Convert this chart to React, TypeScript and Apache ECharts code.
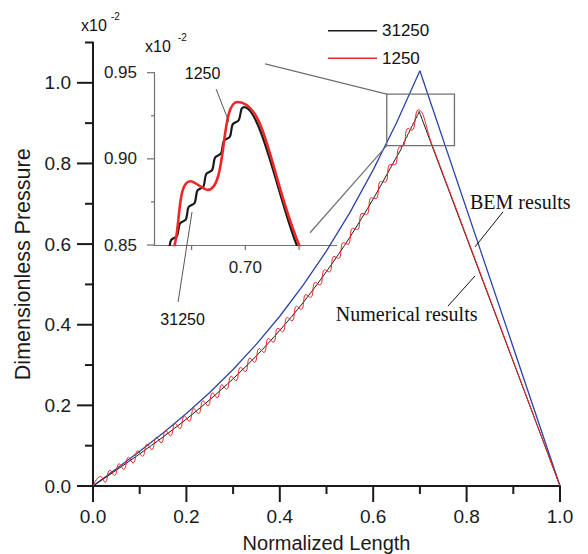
import React, { useEffect, useRef } from "react";
import * as echarts from "echarts";

// ---------- data ----------
const xMajorTicks = [0, 0.2, 0.4, 0.6, 0.8, 1.0];
const xMinorTicks = [0.1, 0.3, 0.5, 0.7, 0.9];
const yMajorTicks = [0, 0.2, 0.4, 0.6, 0.8, 1.0];
const yMinorTicks = [0.1, 0.3, 0.5, 0.7, 0.9, 1.1];
const insetXTicks = [0.675, 0.7, 0.725];
const insetXLabels = [0.7];
const insetYMajorTicks = [0.85, 0.9, 0.95];
const insetYMinorTicks = [0.875, 0.925];

const bemPoints: [number, number][] = [
  [0, 0], [0.05, 0.0426], [0.1, 0.0862], [0.15, 0.1317], [0.2, 0.18], [0.25, 0.232],
  [0.3, 0.289], [0.35, 0.352], [0.4, 0.421], [0.45, 0.498], [0.5, 0.583], [0.55, 0.678],
  [0.6, 0.784], [0.65, 0.901], [0.7, 1.03], [1.0, 0],
];

const fine31250: [number, number][] = [
  [0, 0], [0.05, 0.0394], [0.1, 0.0797], [0.15, 0.1216], [0.2, 0.166], [0.25, 0.214],
  [0.3, 0.266], [0.35, 0.323], [0.4, 0.386], [0.45, 0.455], [0.5, 0.532], [0.55, 0.617],
  [0.6, 0.712], [0.65, 0.816],
  [0.66, 0.836], [0.6613, 0.8432], [0.6641, 0.8456], [0.6654, 0.8528], [0.6682, 0.8552],
  [0.6695, 0.8624], [0.6723, 0.8648], [0.6736, 0.872], [0.6764, 0.8744], [0.6777, 0.8816],
  [0.6805, 0.884], [0.6818, 0.8912], [0.6846, 0.8936], [0.6859, 0.9008], [0.6887, 0.9032],
  [0.69, 0.9104], [0.6928, 0.9128], [0.6941, 0.92], [0.6969, 0.9224], [0.6983, 0.9292],
  [0.6995, 0.93], [0.7239, 0.85], [1.0, 0],
];

const coarse1250: [number, number][] = [
  [0, 0],
  [0.016, 0.0236], [0.026, 0.0094], [0.036, 0.0393], [0.046, 0.0262],
  [0.056, 0.0552], [0.066, 0.0412], [0.076, 0.0712], [0.086, 0.0573],
  [0.096, 0.0874], [0.106, 0.0736], [0.116, 0.1039], [0.126, 0.0902],
  [0.136, 0.1206], [0.146, 0.1072], [0.156, 0.1378], [0.166, 0.1245],
  [0.176, 0.1553], [0.186, 0.1423], [0.196, 0.1734], [0.206, 0.1606],
  [0.216, 0.1919], [0.226, 0.1794], [0.236, 0.211], [0.246, 0.1988],
  [0.256, 0.2308], [0.266, 0.2189], [0.276, 0.2512], [0.286, 0.2397],
  [0.296, 0.2724], [0.306, 0.2613], [0.316, 0.2944], [0.326, 0.2837],
  [0.336, 0.3172], [0.346, 0.3069], [0.356, 0.3409], [0.366, 0.3311],
  [0.376, 0.3656], [0.386, 0.3563], [0.396, 0.3912], [0.406, 0.3825],
  [0.416, 0.418], [0.426, 0.4097], [0.436, 0.4458], [0.446, 0.4382],
  [0.456, 0.4748], [0.466, 0.4678], [0.476, 0.505], [0.486, 0.4986],
  [0.496, 0.5365], [0.506, 0.5308], [0.516, 0.5694], [0.526, 0.5643],
  [0.536, 0.6036], [0.546, 0.5992], [0.556, 0.6392], [0.566, 0.6356],
  [0.576, 0.6763], [0.586, 0.6735], [0.596, 0.715], [0.606, 0.7129],
  [0.616, 0.7553], [0.626, 0.754], [0.636, 0.7972], [0.646, 0.7968],
  [0.656, 0.8408], [0.6635, 0.842], [0.6745, 0.887], [0.6825, 0.882],
  [0.6963, 0.933], [0.725, 0.85], [1.0, 0],
];

// ---------- annotation anchors (data coordinates) ----------
const zoomRect = { x0: 0.629, x1: 0.774, y0: 0.844, y1: 0.972 };
const insetLink1 = [0.7092, 0.9551];
const insetLink2 = [0.7301, 0.8571];
const lbl1250 = { text: [0.6801, 0.9497], from: [0.6864, 0.9405], to: [0.6924, 0.9213] };
const lbl31250 = { text: [0.6708, 0.807], from: [0.6687, 0.8169], to: [0.6752, 0.8692] };
const lblBEM = { text: [0.8073, 0.705], from: [0.878, 0.68], to: [0.818, 0.593] };
const lblNum = { text: [0.6717, 0.426], from: [0.76, 0.446], to: [0.818, 0.521] };

const SANS = '"Liberation Sans", Arial, Helvetica, sans-serif';
const SERIF = '"Liberation Serif", "Times New Roman", serif';
const AX = "#1a1a1a";
const GREY = "#707070";
const RED = "#ee2626";
const BLACK = "#1a1a1a";
const BLUE = "#2b45a8";

export default function App() {
  const ref = useRef<HTMLDivElement>(null);
  useEffect(() => {
    const el = ref.current!;
    const chart = echarts.init(el, null, { renderer: "svg" });
    const option: any = {
      animation: false,
      backgroundColor: "#fff",
      grid: [
        { left: 93, right: 28, top: 42.5, bottom: 68, containLabel: false, outerBoundsMode: "none" },
        { left: 154, top: 72.7, width: 182.7, height: 172.3, containLabel: false, outerBoundsMode: "none" },
      ],
      legend: {
        data: ["31250", "1250"],
        orient: "vertical",
        left: 323,
        top: 15.7,
        itemWidth: 49,
        itemHeight: 1.5,
        itemGap: 7.6,
        icon: "rect",
        selectedMode: false,
        textStyle: { fontSize: 17, fontFamily: SANS, color: "#111", lineHeight: 20 },
      },
      xAxis: [
        {
          gridIndex: 0, type: "value", min: 0, max: 1, interval: 0.2, position: "bottom",
          axisLine: { show: true, onZero: false, lineStyle: { color: AX, width: 2 } },
          axisTick: { show: false },
          axisLabel: {
            margin: 21, fontSize: 19, fontFamily: SANS, color: AX,
            formatter: (v: number) => v.toFixed(1),
          },
          splitLine: { show: false },
          name: "Normalized Length", nameLocation: "middle", nameGap: 47,
          nameTextStyle: { fontSize: 20, fontFamily: SANS, color: AX },
        },
        {
          gridIndex: 1, type: "value", min: 0.6575, max: 0.7425, position: "bottom",
          axisLine: { show: true, onZero: false, lineStyle: { color: GREY, width: 1.2 } },
          axisTick: { show: false },
          axisLabel: {
            customValues: insetXLabels, margin: 14, fontSize: 17, fontFamily: SANS, color: "#222",
            formatter: (v: number) => v.toFixed(2),
          },
          splitLine: { show: false },
        },
      ],
      yAxis: [
        {
          gridIndex: 0, type: "value", min: 0, max: 1.1, position: "left",
          axisLine: { show: true, onZero: false, lineStyle: { color: AX, width: 2 } },
          axisTick: { show: false },
          axisLabel: {
            customValues: yMajorTicks, margin: 22, fontSize: 19, fontFamily: SANS, color: AX,
            formatter: (v: number) => v.toFixed(1),
          },
          splitLine: { show: false },
          name: "Dimensionless Pressure", nameLocation: "middle", nameGap: 58,
          nameTextStyle: { fontSize: 21.5, fontFamily: SANS, color: AX },
        },
        {
          gridIndex: 1, type: "value", min: 0.85, max: 0.95, interval: 0.05, position: "left",
          axisLine: { show: true, onZero: false, lineStyle: { color: GREY, width: 1.2 } },
          axisTick: { show: false },
          axisLabel: { margin: 17, fontSize: 17, fontFamily: SANS, color: "#222", formatter: (v: number) => v.toFixed(2) },
          splitLine: { show: false },
        },
      ],
      series: [
        {
          name: "BEM", type: "line", xAxisIndex: 0, yAxisIndex: 0, data: bemPoints, symbol: "none",
          lineStyle: { color: BLUE, width: 1.3 }, itemStyle: { color: BLUE }, z: 3,
        },
        {
          name: "31250", type: "line", xAxisIndex: 0, yAxisIndex: 0, data: fine31250, symbol: "none",
          smooth: 0.3, lineStyle: { color: BLACK, width: 1 }, itemStyle: { color: BLACK }, z: 4,
        },
        {
          name: "1250", type: "line", xAxisIndex: 0, yAxisIndex: 0, data: coarse1250, symbol: "none",
          smooth: 0.5, lineStyle: { color: RED, width: 1 }, itemStyle: { color: RED }, z: 5,
        },
        {
          name: "31250", type: "line", xAxisIndex: 1, yAxisIndex: 1, data: fine31250, symbol: "none",
          smooth: 0.3, clip: true, lineStyle: { color: BLACK, width: 2.2 }, itemStyle: { color: BLACK }, z: 4,
        },
        {
          name: "1250", type: "line", xAxisIndex: 1, yAxisIndex: 1, data: coarse1250, symbol: "none",
          smooth: 0.5, clip: true, lineStyle: { color: RED, width: 2.6 }, itemStyle: { color: RED }, z: 5,
        },
      ],
    };
    chart.setOption(option);

    const m = (p: number[]) => chart.convertToPixel({ seriesIndex: 0 }, p) as number[];
    const n = (p: number[]) => chart.convertToPixel({ seriesIndex: 3 }, p) as number[];
    const line = (a: number[], b: number[], color: string, w: number) => ({
      type: "line", z: 10, silent: true,
      shape: { x1: a[0], y1: a[1], x2: b[0], y2: b[1] },
      style: { stroke: color, lineWidth: w },
    });
    const text = (p: number[], t: string, font: string, align: string) => ({
      type: "text", z: 10, silent: true, x: p[0], y: p[1],
      style: { text: t, font, fill: "#111", align, verticalAlign: "middle", textAlign: align, textVerticalAlign: "middle" },
    });

    // axis ticks, placed through the axes' own scales
    const ticks: any[] = [];
    const o0 = m([0, 0]);
    xMajorTicks.forEach((v) => { const p = m([v, 0]); ticks.push(line([p[0], o0[1]], [p[0], o0[1] + 16], AX, 2)); });
    xMinorTicks.forEach((v) => { const p = m([v, 0]); ticks.push(line([p[0], o0[1]], [p[0], o0[1] + 8], AX, 2)); });
    yMajorTicks.forEach((v) => { const p = m([0, v]); ticks.push(line([o0[0], p[1]], [o0[0] - 16, p[1]], AX, 2)); });
    yMinorTicks.forEach((v) => { const p = m([0, v]); ticks.push(line([o0[0], p[1]], [o0[0] - 8, p[1]], AX, 2)); });
    const i0 = n([0.6575, 0.85]);
    insetXTicks.forEach((v) => { const p = n([v, 0.85]); ticks.push(line([p[0], i0[1]], [p[0], i0[1] + 5], GREY, 1.2)); });
    insetYMajorTicks.forEach((v) => { const p = n([0.6575, v]); ticks.push(line([i0[0], p[1]], [i0[0] - 7, p[1]], GREY, 1.2)); });
    insetYMinorTicks.forEach((v) => { const p = n([0.6575, v]); ticks.push(line([i0[0], p[1]], [i0[0] - 3, p[1]], GREY, 1.2)); });

    const r0 = m([zoomRect.x0, zoomRect.y1]);
    const r1 = m([zoomRect.x1, zoomRect.y0]);
    const graphic: any[] = [
      ...ticks,
      {
        type: "rect", z: 10, silent: true,
        shape: { x: r0[0], y: r0[1], width: r1[0] - r0[0], height: r1[1] - r0[1] },
        style: { fill: "none", stroke: GREY, lineWidth: 1.3 },
      },
      line(n(insetLink1), r0, GREY, 1.2),
      line(n(insetLink2), m([zoomRect.x0, zoomRect.y0]), GREY, 1.2),
      line(n(lbl1250.from), n(lbl1250.to), "#555", 1),
      line(n(lbl31250.from), n(lbl31250.to), "#555", 1),
      line(m(lblBEM.from), m(lblBEM.to), "#111", 1),
      line(m(lblNum.from), m(lblNum.to), "#111", 1),
      text(n(lbl1250.text), "1250", `16px ${SANS}`, "center"),
      text(n(lbl31250.text), "31250", `16px ${SANS}`, "center"),
      text(m(lblBEM.text), "BEM results", `20px ${SERIF}`, "left"),
      text(m(lblNum.text), "Numerical results", `20px ${SERIF}`, "center"),
      // axis multipliers
      { type: "text", z: 10, silent: true, x: 81, y: 17, style: { text: "x10", font: `16px ${SANS}`, fill: "#111" } },
      { type: "text", z: 10, silent: true, x: 111, y: 11, style: { text: "-2", font: `10px ${SANS}`, fill: "#111" } },
      { type: "text", z: 10, silent: true, x: 145, y: 38, style: { text: "x10", font: `16px ${SANS}`, fill: "#111" } },
      { type: "text", z: 10, silent: true, x: 178, y: 32, style: { text: "-2", font: `10px ${SANS}`, fill: "#111" } },
    ];
    chart.setOption({ graphic });
    return () => chart.dispose();
  }, []);

  return (
    <div
      ref={ref}
      style={{ position: "fixed", left: 0, top: 0, width: 588, height: 554, background: "#fff" }}
    />
  );
}
